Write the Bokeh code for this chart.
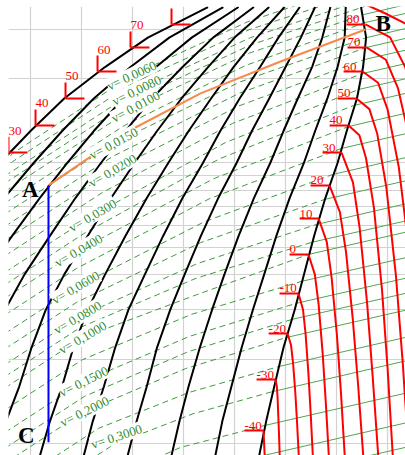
import numpy as np
from bokeh.plotting import figure
from bokeh.models import Range1d, FixedTicker, Grid
from bokeh.embed import file_html
from bokeh.resources import INLINE
from bokeh.core.properties import value

# x: specific enthalpy h ; y: lg(p / bar)
H_TICKS = [300, 350, 400, 450, 500, 550, 600, 650]
P_TICKS = [1, 2, 3, 4, 5, 6, 7, 8, 9, 10, 20, 30]

# saturation lines and constant-quality lines, read at these pressure levels
LGP_LEVELS = [-0.046, 0.079, 0.204, 0.342, 0.477, 0.602, 0.740, 0.875, 1.000, 1.114, 1.230, 1.342, 1.447, 1.556]
H_LIQ = [93, 107, 123, 135, 153, 177, 208, 239, 270, 300, 333, 373, 415, 474]
H_VAP = [524, 531, 539, 548, 559, 568, 578, 589, 601, 610, 620, 626, 629, 624]
H_Q01 = [136, 149, 164, 177, 194, 216, 245, 274, 303, 331, 362, 398, 436, 489]
H_Q02 = [179, 192, 206, 218, 234, 255, 282, 309, 336, 362, 391, 423, 458, 504]
H_Q03 = [222, 234, 247, 259, 275, 294, 319, 344, 369, 393, 419, 449, 479, 519]
H_Q04 = [265, 276, 289, 301, 315, 333, 356, 379, 402, 424, 448, 474, 500, 534]
H_Q05 = [309, 319, 331, 342, 356, 373, 393, 414, 435, 455, 477, 499, 522, 549]
H_Q06 = [352, 361, 372, 383, 396, 412, 430, 449, 469, 486, 505, 525, 543, 564]
H_Q07 = [395, 404, 414, 424, 437, 451, 467, 484, 502, 517, 534, 550, 565, 579]
H_Q08 = [438, 446, 455, 466, 478, 490, 504, 519, 535, 548, 562, 576, 586, 594]
H_Q09 = [481, 488, 497, 507, 518, 529, 541, 554, 568, 579, 591, 601, 608, 609]

# saturation temperatures (deg C) and their pressures
T_SAT = [80, 70, 60, 50, 40, 30, 20, 10, 0, -10, -20, -30, -40]
LGP_SAT = [1.494, 1.412, 1.326, 1.230, 1.134, 1.037, 0.920, 0.802, 0.674, 0.535, 0.392, 0.228, 0.046]
H_VAP_T = [628.4, 629.4, 625.5, 619.6, 611.8, 604.9, 593.1, 582.4, 572.5, 562.7, 552.0, 540.2, 528.4]
T_LIQ = [30, 40, 50, 60, 70, 80]
LGP_LIQ_T = [1.037, 1.134, 1.230, 1.326, 1.412, 1.494]
H_LIQ_T = [278.4, 304.9, 334.3, 365.7, 398.0, 438.2]
T_LIQ_SHOWN = [30, 40, 50, 60, 70]   # the 80 mark's number lies above the frame

# isotherms in the superheated region
ISO_T = {
    90: ([623.5, 630.4, 648.0, 667.6, 682.4], [1.586, 1.562, 1.533, 1.497, 1.469]),
    80: ([628.4, 652.5, 667.4, 684.7], [1.494, 1.448, 1.341, 1.112]),
    70: ([629.4, 648.4, 660.2, 673.8, 688.2], [1.412, 1.368, 1.267, 1.051, 0.690]),
    60: ([625.5, 640.7, 650.1, 661.0, 672.4, 681.4], [1.326, 1.286, 1.190, 0.986, 0.647, 0.307]),
    50: ([619.6, 632.2, 639.9, 648.8, 658.2, 665.0, 671.1], [1.230, 1.192, 1.104, 0.914, 0.599, 0.283, -0.061]),
    40: ([611.8, 622.4, 628.9, 636.6, 644.5, 650.2, 655.4], [1.134, 1.099, 1.017, 0.842, 0.551, 0.259, -0.061]),
    30: ([604.9, 616.1, 622.6, 629.9, 635.5, 641.2], [1.037, 0.931, 0.770, 0.503, 0.235, -0.061]),
    20: ([593.1, 603.3, 609.3, 615.9, 621.2, 626.5], [0.920, 0.825, 0.682, 0.444, 0.206, -0.061]),
    10: ([582.4, 590.4, 595.1, 600.4, 604.4, 608.3], [0.802, 0.719, 0.594, 0.385, 0.177, -0.061]),
    0: ([572.5, 578.7, 582.4, 586.4, 589.5, 592.7], [0.674, 0.603, 0.497, 0.321, 0.144, -0.061]),
    -10: ([562.7, 567.1, 569.6, 572.4, 574.6, 577.0], [0.535, 0.478, 0.393, 0.251, 0.110, -0.061]),
    -20: ([552.0, 555.4, 557.4, 559.6, 561.3, 563.2], [0.392, 0.350, 0.286, 0.180, 0.074, -0.061]),
    -30: ([540.2, 541.5, 542.2, 542.9, 543.6, 544.4], [0.228, 0.202, 0.163, 0.098, 0.033, -0.061]),
    -40: ([528.4, 529.4, 529.9], [0.046, -0.032, -0.061]),
}

# isochores v (m3/kg): wet-region part (dashed) and superheated part (solid)
V_ALL = [0.006, 0.007, 0.008, 0.009, 0.010, 0.0125, 0.015, 0.0175, 0.020, 0.025, 0.030, 0.035,
         0.040, 0.050, 0.060, 0.070, 0.080, 0.090, 0.100, 0.125, 0.150, 0.175, 0.200, 0.250,
         0.300, 0.350, 0.400, 0.500]
V_WET = [
    ([254.9, 282.4, 399.0, 513.2, 627.5], [0.916, 1.034, 1.312, 1.504, 1.644]),
    ([258.8, 282.4, 401.0, 514.2, 627.5], [0.931, 1.005, 1.287, 1.475, 1.611]),
    ([258.8, 403.9, 515.7, 627.5], [0.916, 1.259, 1.447, 1.583]),
    ([258.8, 402.9, 515.2, 627.5], [0.890, 1.230, 1.420, 1.558]),
    ([258.8, 402.9, 514.7, 626.5], [0.861, 1.201, 1.392, 1.529]),
    ([258.8, 392.2, 510.3, 628.4], [0.819, 1.134, 1.347, 1.501]),
    ([258.8, 381.4, 505.4, 629.4], [0.780, 1.070, 1.289, 1.447]),
    ([258.8, 380.4, 504.9, 629.4], [0.736, 1.023, 1.249, 1.412]),
    ([258.8, 380.4, 503.9, 627.5], [0.686, 0.973, 1.203, 1.369]),
    ([258.8, 370.6, 498.0, 625.5], [0.631, 0.895, 1.141, 1.319]),
    ([258.8, 360.8, 491.2, 621.6], [0.572, 0.813, 1.073, 1.262]),
    ([258.8, 353.9, 485.3, 616.7], [0.528, 0.752, 1.015, 1.205]),
    ([258.8, 347.1, 479.4, 611.8], [0.480, 0.688, 0.944, 1.130]),
    ([258.8, 345.1, 475.0, 604.9], [0.420, 0.624, 0.872, 1.052]),
    ([258.8, 344.1, 470.1, 596.1], [0.354, 0.556, 0.790, 0.959]),
    ([258.8, 345.1, 466.7, 588.2], [0.299, 0.503, 0.716, 0.870]),
    ([258.8, 346.1, 463.2, 580.4], [0.243, 0.449, 0.641, 0.781]),
    ([258.8, 349.0, 462.3, 575.5], [0.200, 0.414, 0.589, 0.717]),
    ([258.8, 351.0, 461.8, 572.5], [0.160, 0.378, 0.529, 0.674]),
    ([258.8, 351.0, 458.3, 565.7], [0.082, 0.299, 0.461, 0.578]),
    ([258.8, 352.0, 455.9, 559.8], [0.001, 0.221, 0.382, 0.499]),
    ([258.8, 352.9, 454.4, 555.9], [-0.055, 0.168, 0.327, 0.442]),
    ([258.8, 352.9, 452.0, 551.0], [-0.108, 0.114, 0.267, 0.378]),
    ([258.8, 366.7, 455.4, 544.1], [-0.201, 0.054, 0.182, 0.275]),
    ([258.8, 381.4, 459.3, 537.3], [-0.293, -0.004, 0.106, 0.185]),
    ([378.4, 447.1, 529.4], [-0.125, -0.014, 0.064]),
    ([], []),
    ([], []),
]
V_DRY = [
    ([], []), ([], []), ([], []), ([], []),
    ([626.5, 674.5], [1.529, 1.570]),
    ([628.4, 674.5], [1.501, 1.539]),
    ([629.4, 674.5], [1.447, 1.485]),
    ([629.4, 674.5], [1.412, 1.450]),
    ([627.5, 674.5], [1.369, 1.408]),
    ([625.5, 674.5], [1.319, 1.360]),
    ([621.6, 674.5], [1.262, 1.306]),
    ([616.7, 674.5], [1.205, 1.254]),
    ([611.8, 674.5], [1.130, 1.183]),
    ([604.9, 674.5], [1.052, 1.110]),
    ([596.1, 674.5], [0.959, 1.025]),
    ([588.2, 674.5], [0.870, 0.942]),
    ([580.4, 674.5], [0.781, 0.860]),
    ([575.5, 674.5], [0.717, 0.799]),
    ([572.5, 674.5], [0.674, 0.759]),
    ([565.7, 674.5], [0.578, 0.668]),
    ([559.8, 674.5], [0.499, 0.595]),
    ([555.9, 674.5], [0.442, 0.541]),
    ([551.0, 674.5], [0.378, 0.481]),
    ([544.1, 674.5], [0.275, 0.384]),
    ([537.3, 674.5], [0.185, 0.300]),
    ([529.4, 674.5], [0.064, 0.185]),
    ([524.5, 674.5], [-0.046, 0.079]),
    ([564.7, 674.5], [-0.100, -0.008]),
]
V_LABELS = ["0,0060", "0,0080", "0,0100", "0,0150", "0,0200", "0,0300", "0,0400",
            "0,0600", "0,0800", "0,1000", "0,1500", "0,2000", "0,3000"]
V_LABEL_H = [399.0, 403.9, 402.9, 381.4, 380.4, 360.8, 347.1, 344.1, 346.1, 351.0, 352.0, 352.9, 384.3]
V_LABEL_LGP = [1.312, 1.259, 1.201, 1.070, 0.973, 0.813, 0.688, 0.556, 0.449, 0.378, 0.221, 0.114, 0.025]
V_LABEL_DEG = [25, 26, 28, 28, 30, 30, 30, 30, 30, 30, 26, 26, 18]

# process: A -> B (orange), A -> C (blue)
PROC_AB_H = [317.6, 360.8, 401.0, 466.7, 545.1, 628.4]
PROC_AB_LGP = [0.920, 1.027, 1.123, 1.248, 1.362, 1.476]
PROC_AC_H = [317.6, 317.6]
PROC_AC_LGP = [0.920, 0.004]
POINT_NAMES = ["A", "B", "C"]
POINT_H = [307.8, 638.2, 303.9]
POINT_LGP = [0.906, 1.497, 0.029]
POINT_ALIGN = ["right", "left", "right"]

# ---------------------------------------------------------------- styles
SERIF = "Liberation Serif"
TICK_DH = 18.6      # length of temperature tick marks (h units)
TICK_DLGP = 0.057   # height of the L marks on the liquid line

p = figure(width=405, height=455, output_backend="svg", toolbar_location=None,
           x_range=Range1d(278.4, 667.6), y_range=Range1d(-0.0428, 1.5579),
           x_axis_location=None, y_axis_location=None,
           min_border_left=8, min_border_top=6, min_border_right=0, min_border_bottom=0)
p.outline_line_color = None
p.background_fill_color = "white"
p.border_fill_color = "white"
p.grid.visible = False
p.add_layout(Grid(dimension=0, ticker=FixedTicker(ticks=H_TICKS),
                  grid_line_color="#d2d2d2", grid_line_width=1.2))
p.add_layout(Grid(dimension=1, ticker=FixedTicker(ticks=list(np.log10(P_TICKS))),
                  grid_line_color="#d2d2d2", grid_line_width=1.2))

# isochores
wet = [w for w in V_WET if len(w[0])]
p.multi_line([w[0] for w in wet], [w[1] for w in wet], line_color="#3d9a3d",
             line_width=1, line_dash="6 4")
dry = [d for d in V_DRY if len(d[0])]
p.multi_line([d[0] for d in dry], [d[1] for d in dry], line_color="#4fa64f", line_width=1)

# quality lines and saturation lines
q_lines = [H_Q01, H_Q02, H_Q03, H_Q04, H_Q05, H_Q06, H_Q07, H_Q08, H_Q09]
p.multi_line(q_lines + [H_LIQ, H_VAP], [LGP_LEVELS] * (len(q_lines) + 2),
             line_color="black", line_width=2)

# isotherms
p.multi_line([v[0] for v in ISO_T.values()], [v[1] for v in ISO_T.values()],
             line_color="#ff0000", line_width=2)

# process lines
p.line(PROC_AB_H, PROC_AB_LGP, line_color="#f58a4b", line_width=2)
p.line(PROC_AC_H, PROC_AC_LGP, line_color="#0000ff", line_width=2)

# temperature marks on vapor line
hv = np.array(H_VAP_T)
lv = np.array(LGP_SAT)
p.segment(hv - TICK_DH, lv, hv, lv, line_color="#ff0000", line_width=2)
p.text(hv - TICK_DH, lv, text=[str(t) for t in T_SAT], text_color="#ff0000",
       text_font=value(SERIF), text_font_size="13px", text_align="left",
       text_baseline="bottom", y_offset=-1)
# temperature marks on liquid line
hl = np.array(H_LIQ_T)
ll = np.array(LGP_LIQ_T)
p.segment(hl, ll, hl + TICK_DH, ll, line_color="#ff0000", line_width=2)
p.segment(hl, ll, hl, ll + TICK_DLGP, line_color="#ff0000", line_width=2)
n_shown = len(T_LIQ_SHOWN)
p.text(hl[:n_shown], ll[:n_shown] + TICK_DLGP, text=[str(t) for t in T_LIQ_SHOWN],
       text_color="#ff0000", text_font=value(SERIF), text_font_size="13px",
       text_align="left", text_baseline="bottom", y_offset=-2)

# isochore labels
p.text(V_LABEL_H, V_LABEL_LGP, text=["v= " + v for v in V_LABELS],
       angle=list(np.radians(V_LABEL_DEG)),
       text_color="#2f8c2f", text_font=value(SERIF), text_font_size="13px",
       text_align="center", text_baseline="middle",
       background_fill_color="white")

# point names
for name, x, y, al in zip(POINT_NAMES, POINT_H, POINT_LGP, POINT_ALIGN):
    p.text([x], [y], text=[name], text_color="black", text_font=value(SERIF),
           text_font_size="23px", text_font_style="bold", text_align=al,
           text_baseline="middle")

open("out.html", "w").write(file_html(p, INLINE))
